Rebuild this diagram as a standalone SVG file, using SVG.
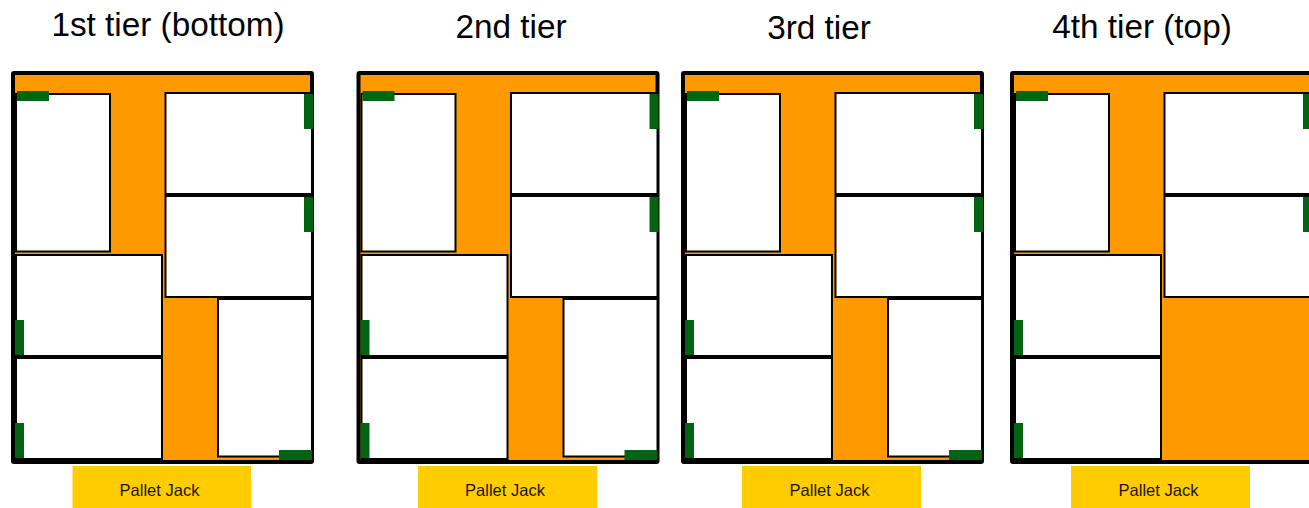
<svg xmlns="http://www.w3.org/2000/svg" width="1309" height="508" viewBox="0 0 1309 508">
<style>
.title{font-family:"Liberation Sans",Arial,sans-serif;font-size:33.300px;fill:#000;text-anchor:middle}
.jack{fill:#ffcc00}
.label{font-family:"Liberation Sans",Arial,sans-serif;font-size:16.500px;fill:#1a1400;text-anchor:middle}
.floor{fill:#ff9900;stroke:#000;stroke-width:4}
.box{fill:#fff;stroke:#000;stroke-width:2}
.g{fill:#006411}
</style>
<defs>
<g id="common">
<rect class="floor" x="13" y="73" width="299" height="389" rx="1"/>
<rect class="box" x="16" y="94" width="94" height="157.500"/>
<rect class="box" x="165.500" y="93" width="146.500" height="101"/>
<rect class="box" x="165.500" y="196" width="146.500" height="101"/>
<rect class="box" x="16" y="255" width="146" height="101"/>
<rect class="box" x="16" y="358" width="146" height="101"/>
<rect class="g" x="17" y="91" width="32" height="10"/>
<rect class="g" x="304" y="94" width="9" height="35"/>
<rect class="g" x="304" y="197" width="9" height="35"/>
<rect class="g" x="15" y="320" width="9" height="35"/>
<rect class="g" x="15" y="423" width="9" height="35"/>
</g>
<g id="lower">
<rect class="box" x="218" y="299" width="94" height="157.500"/>
<rect class="g" x="279" y="450" width="33" height="10"/>
</g>
</defs>
<g id="tier1">
<text class="title" x="168" y="36">1st tier (bottom)</text>
<use href="#common"/><use href="#lower"/>
<rect class="jack" x="72.500" y="466" width="178.500" height="42"/>
<text class="label" x="159.500" y="495.500">Pallet Jack</text>
</g>
<g id="tier2">
<text class="title" x="511" y="38">2nd tier</text>
<g transform="translate(345.500 0)"><use href="#common"/><use href="#lower"/></g>
<rect class="jack" x="418" y="466" width="179" height="42"/>
<text class="label" x="505" y="495.500">Pallet Jack</text>
</g>
<g id="tier3">
<text class="title" x="819" y="39">3rd tier</text>
<g transform="translate(670 0)"><use href="#common"/><use href="#lower"/></g>
<rect class="jack" x="742" y="466" width="179" height="42"/>
<text class="label" x="829.500" y="495.500">Pallet Jack</text>
</g>
<g id="tier4">
<text class="title" x="1142" y="38">4th tier (top)</text>
<g transform="translate(999 0)"><use href="#common"/></g>
<rect class="jack" x="1071" y="466" width="179" height="42"/>
<text class="label" x="1158.500" y="495.500">Pallet Jack</text>
</g>
</svg>
